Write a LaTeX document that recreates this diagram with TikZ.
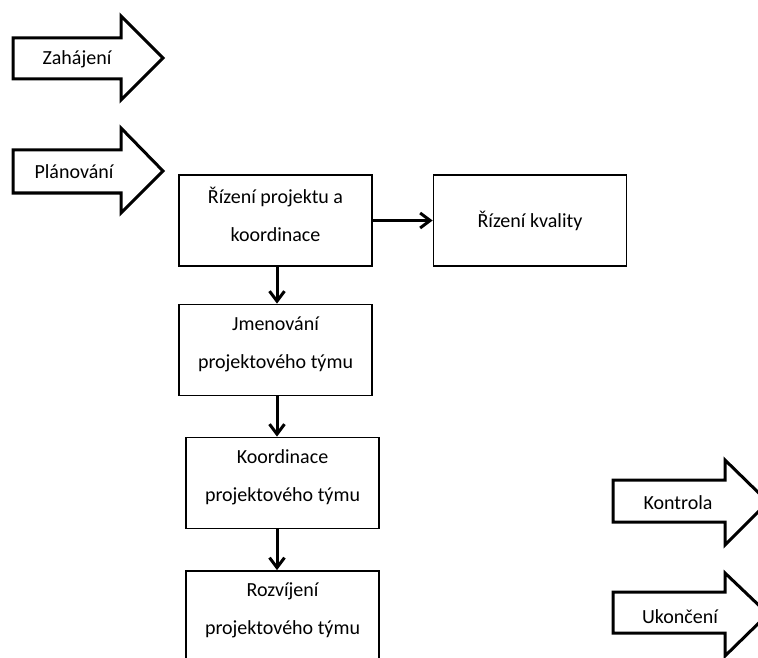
\documentclass[tikz,border=0pt]{standalone}
\usepackage{fontspec}
\setmainfont{Carlito}
\usetikzlibrary{arrows.meta}
\begin{document}
\begin{tikzpicture}[x=1pt,y=-1pt,
  txt/.style={font=\fontsize{20}{38}\selectfont, align=center, inner sep=0pt},
  box/.style={draw=black, line width=1.7pt, fill=white, minimum width=193pt,
    minimum height=91pt, inner sep=0pt},
  boxtext/.style={txt, yshift=6pt},
  phase/.style={draw=black, line width=3pt, fill=white, line join=miter},
  conn/.style={line width=3pt, -{Straight Barb[length=10pt,width=15pt,line width=3pt]}}]
  \useasboundingbox (0,0) rectangle (758,658);

  % phase arrows on the left
  \draw[phase] (13,38) -- (121,38) -- (121,16) -- (163,58) -- (121,100)
    -- (121,79) -- (13,79) -- cycle;
  \node[txt] (zahajeni) at (77,59) {Zahájení};
  \draw[phase] (13,150) -- (121,150) -- (121,128) -- (163,171) -- (121,213)
    -- (121,193) -- (13,193) -- cycle;
  \node[txt] (planovani) at (74,172) {Plánování};

  % phase arrows on the right, running past the edge
  \draw[phase] (613,480) -- (725,480) -- (725,460) -- (768,502) -- (725,545)
    -- (725,522) -- (613,522) -- cycle;
  \node[txt] (kontrola) at (678,503) {Kontrola};
  \draw[phase] (613,592) -- (725,592) -- (725,573) -- (768,614) -- (725,656)
    -- (725,633) -- (613,633) -- cycle;
  \node[txt] (ukonceni) at (680,617) {Ukončení};

  % process boxes
  \node[box] (rizeni) at (275.5,220.5) {};
  \node[boxtext] at (rizeni.center) {Řízení projektu a\\koordinace};
  \node[box] (kvalita) at (530,220.5) {};
  \node[txt] at (kvalita.center) {Řízení kvality};
  \node[box] (jmenovani) at (275.5,350) {};
  \node[boxtext] at (jmenovani.center) {Jmenování\\projektového týmu};
  \node[box] (koordinace) at (282.5,483) {};
  \node[boxtext] at (koordinace.center) {Koordinace\\projektového týmu};
  \node[box] (rozvijeni) at (282.5,616.5) {};
  \node[boxtext] at (rozvijeni.center) {Rozvíjení\\projektového týmu};

  % connectors
  \coordinate (axis) at (277,0);
  \draw[conn] (rizeni.east) -- (kvalita.west);
  \draw[conn] (rizeni.south -| axis) -- (jmenovani.north -| axis);
  \draw[conn] (jmenovani.south -| axis) -- (koordinace.north -| axis);
  \draw[conn] (koordinace.south -| axis) -- (rozvijeni.north -| axis);
\end{tikzpicture}
\end{document}
